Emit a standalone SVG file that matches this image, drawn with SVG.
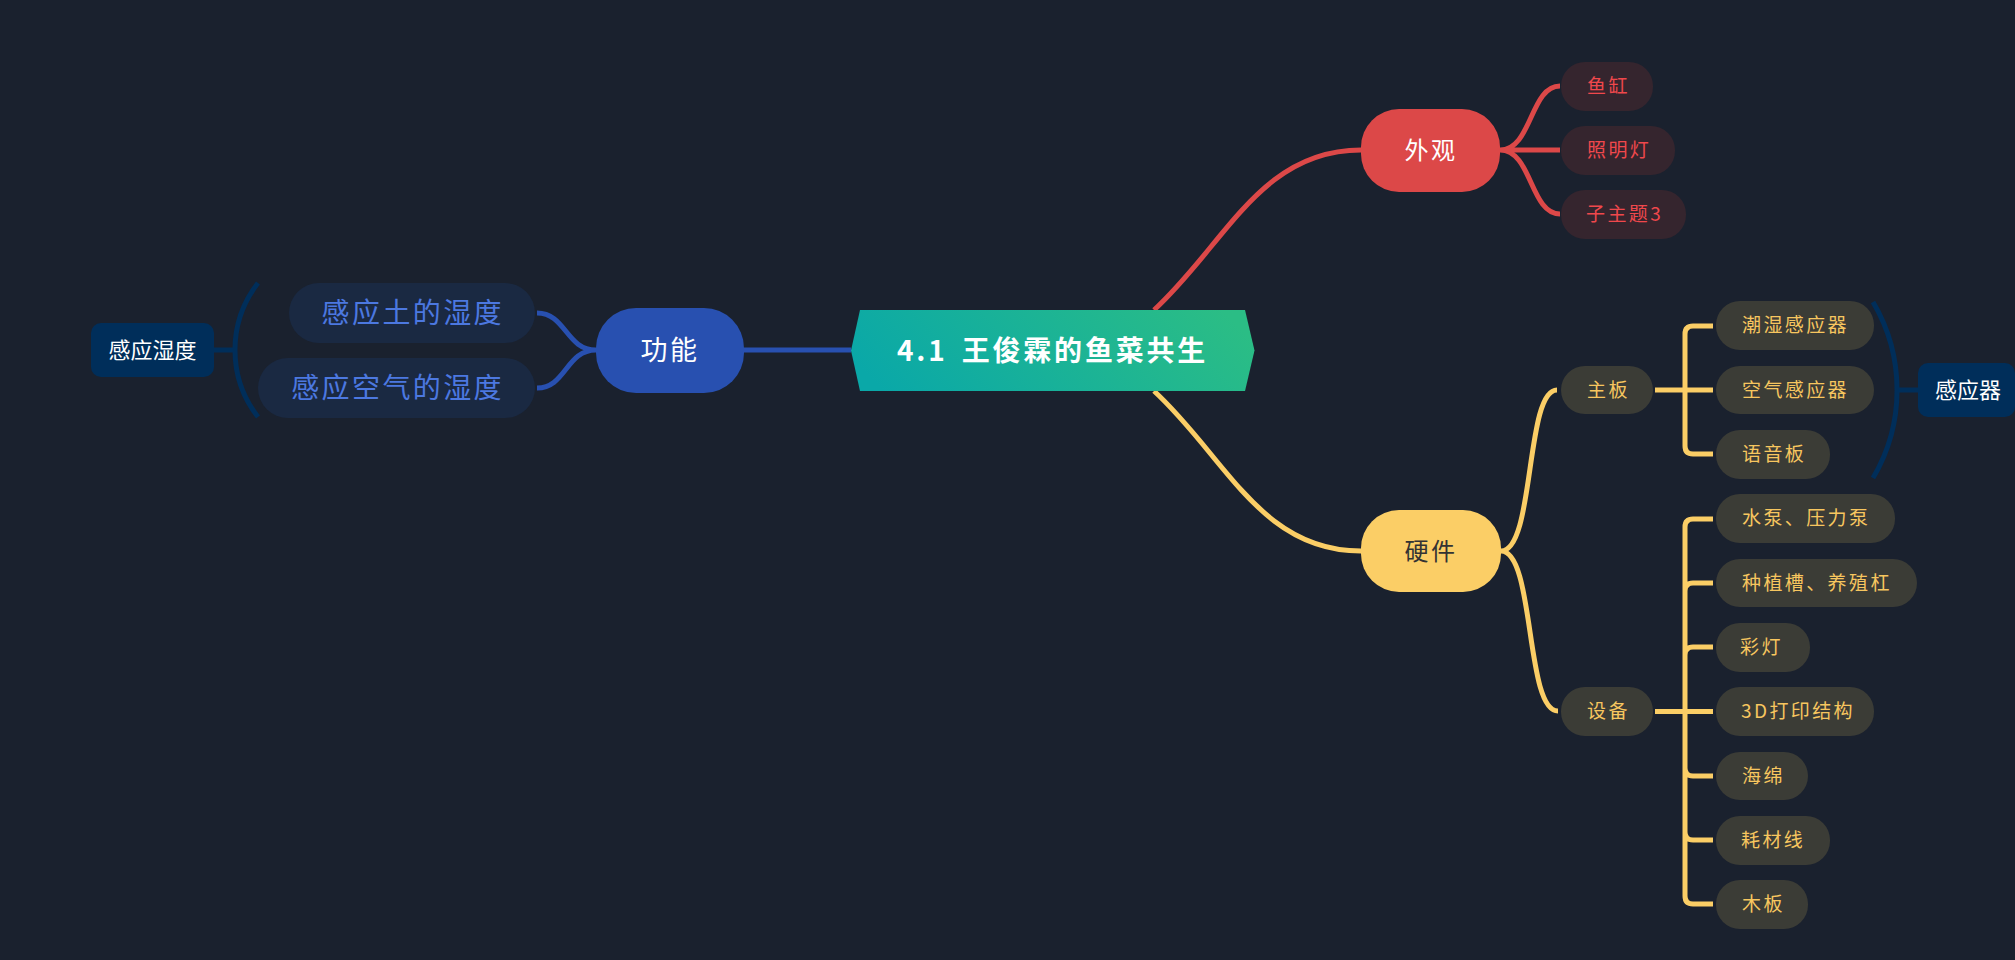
<svg xmlns="http://www.w3.org/2000/svg" width="2015" height="960" viewBox="0 0 2015 960">
<style>
text{font-family:"Noto Sans CJK SC","Noto Sans",sans-serif}
.s{font-size:19px;letter-spacing:2.4px}
.l1{font-size:24px;letter-spacing:2.400px;text-anchor:middle}
.b{font-size:28px;letter-spacing:2.4px;fill:#4c78e0;text-anchor:end}
.sum{font-size:22px;fill:#fff;text-anchor:middle;font-family:"Liberation Sans","Noto Sans CJK SC",sans-serif}
.rp{fill:#35252e}.rt{fill:#f0484c}
.yp{fill:#3b3c36}.yt{fill:#f7c65f}
.c{fill:none;stroke-width:5;stroke-linecap:butt}
.cr{stroke:#dc4848}.cy{stroke:#fbce66}.cb{stroke:#2850b0}.cs{stroke:#002e5a;stroke-width:5}
</style>
<defs>
<linearGradient id="rootGrad" x1="0" y1="0.6" x2="1" y2="0.4">
<stop offset="0" stop-color="#0aa8a8"/><stop offset="1" stop-color="#2bbd85"/>
</linearGradient>
</defs>
<rect width="2015" height="960" fill="#1a212e"/>
<g id="connectors">
<path class="c cr" d="M1154 310C1225 245 1260 150 1361 150"/>
<path class="c cy" d="M1154 391C1225 456 1260 551 1361 551"/>
<path class="c cb" d="M744 350H851"/>
<path class="c cr" d="M1500 150C1532 150 1530 86 1560 86M1500 150H1560M1500 150C1532 150 1530 214 1560 214"/>
<path class="c cy" d="M1501 551C1535 551 1525 390 1557 390M1501 551C1535 551 1525 711 1558 711"/>
<path class="c cy" d="M1655 390H1713M1713 326H1693Q1685 326 1685 334V446Q1685 454 1693 454H1713"/>
<path class="c cy" d="M1655 711.500H1713M1713 519H1693Q1685 519 1685 527V896Q1685 904 1693 904H1713M1685 591Q1685 583 1693 583H1713M1685 655Q1685 647 1693 647H1713M1685 768Q1685 776 1693 776H1713M1685 832Q1685 840 1693 840H1713"/>
<path class="c cb" d="M596 350C566 350 566 313 537 313M596 350C566 350 566 388 537 388"/>
<path class="c cs" d="M1873 302A173 173 0 0 1 1873 478M1897 390H1918"/>
<path class="c cs" d="M258 283A109 109 0 0 0 258 417M235 350H214"/>
</g>
<g id="root">
<polygon points="860,310 1245,310 1254.500,350.500 1245,391 860,391 851,350.500" fill="url(#rootGrad)"/>
<text x="897" y="360.500" font-size="28" font-weight="700" letter-spacing="2.8" fill="#fff">4.1 <tspan dx="5">王俊霖的鱼菜共生</tspan></text>
</g>
<g id="n-waiguan"><rect x="1361" y="109" width="139" height="83" rx="38" fill="#dc4848"/><text class="l1" x="1431" y="159" fill="#fff">外观</text></g>
<g id="n-yingjian"><rect x="1361" y="510" width="140" height="82" rx="38" fill="#fbce66"/><text class="l1" x="1431" y="560" fill="#333">硬件</text></g>
<g id="n-gongneng"><rect x="596" y="308" width="148" height="85" rx="40" fill="#2850b0"/><text class="l1" x="670" y="360" fill="#fff" style="font-size:27px">功能</text></g>
<g id="n-yugang"><rect class="rp" x="1561" y="62" width="92" height="49" rx="24"/><text class="s rt" x="1587" y="92.500">鱼缸</text></g>
<g id="n-zhaoming"><rect class="rp" x="1561" y="126" width="114" height="49" rx="24"/><text class="s rt" x="1587" y="156.500">照明灯</text></g>
<g id="n-zizhuti"><rect class="rp" x="1561" y="190" width="125" height="49" rx="24"/><text class="s rt" x="1586" y="220.500">子主题3</text></g>
<g id="n-zhuban"><rect class="yp" x="1561" y="366" width="92" height="48" rx="24"/><text class="s yt" x="1587" y="396.500">主板</text></g>
<g id="n-shebei"><rect class="yp" x="1561" y="687" width="92" height="49" rx="24"/><text class="s yt" x="1587" y="717.500">设备</text></g>
<g id="n-chaoshi"><rect class="yp" x="1716" y="301" width="158" height="49" rx="24"/><text class="s yt" x="1742" y="331.500">潮湿感应器</text></g>
<g id="n-kongqi"><rect class="yp" x="1716" y="366" width="158" height="48" rx="24"/><text class="s yt" x="1742" y="396.500">空气感应器</text></g>
<g id="n-yuyin"><rect class="yp" x="1716" y="430" width="114" height="49" rx="24"/><text class="s yt" x="1742" y="460.500">语音板</text></g>
<g id="n-shuibeng"><rect class="yp" x="1716" y="494" width="179" height="49" rx="24"/><text class="s yt" x="1742" y="524.500">水泵、压力泵</text></g>
<g id="n-zhongzhi"><rect class="yp" x="1716" y="559" width="201" height="48" rx="24"/><text class="s yt" x="1742" y="589.500">种植槽、养殖杠</text></g>
<g id="n-caideng"><rect class="yp" x="1716" y="623" width="94" height="49" rx="24"/><text class="s yt" x="1740" y="653.500">彩灯</text></g>
<g id="n-dayin"><rect class="yp" x="1716" y="687" width="158" height="49" rx="24"/><text class="s yt" x="1741" y="717.500">3D打印结构</text></g>
<g id="n-haimian"><rect class="yp" x="1716" y="752" width="92" height="48" rx="24"/><text class="s yt" x="1742" y="782.500">海绵</text></g>
<g id="n-haocai"><rect class="yp" x="1716" y="816" width="114" height="49" rx="24"/><text class="s yt" x="1741" y="846.500">耗材线</text></g>
<g id="n-muban"><rect class="yp" x="1716" y="880" width="92" height="49" rx="24"/><text class="s yt" x="1742" y="910.500">木板</text></g>
<g id="n-tu"><rect x="289" y="283" width="246" height="60" rx="30" fill="#1a2942"/><text class="b" x="504" y="323">感应土的湿度</text></g>
<g id="n-air"><rect x="258" y="358" width="277" height="60" rx="30" fill="#1a2942"/><text class="b" x="504" y="398">感应空气的湿度</text></g>
<g id="s-ganyingqi"><rect x="1918" y="363" width="97" height="54" rx="10" fill="#002e5a"/><text class="sum" x="1968" y="398">感应器</text></g>
<g id="s-shidu"><rect x="91" y="323" width="123" height="54" rx="10" fill="#002e5a"/><text class="sum" x="152.500" y="358">感应湿度</text></g>
</svg>
